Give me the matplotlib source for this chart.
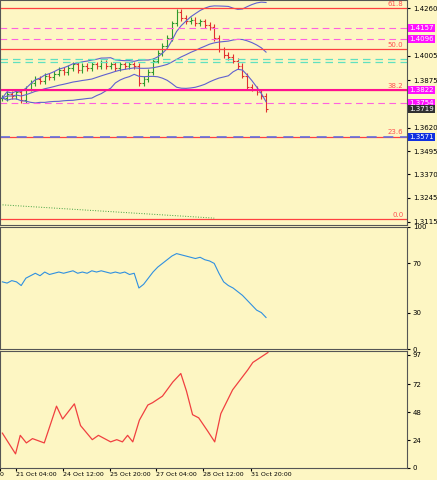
import matplotlib
matplotlib.use("Agg")
import matplotlib.pyplot as plt
import numpy as np
import pandas as pd

closes = [1.378,1.380,1.379,1.381,1.377,1.383,1.386,1.388,1.387,1.390,1.389,1.391,
          1.393,1.392,1.394,1.396,1.393,1.395,1.394,1.396,1.395,1.397,1.395,1.396,1.394,1.396,1.395,1.396,1.395,
          1.386,1.388,1.392,1.398,1.402,1.406,1.410,1.418,1.424,1.421,1.419,1.420,1.418,1.419,1.417,1.416,
          1.410,1.404,1.401,1.400,1.398,1.395,1.390,1.384,1.383,1.381,1.379,1.372]
rsi = [55,54,56,55,52,58,60,62,60,63,61,62,63,62,63,64,62,63,62,64,63,64,63,62,63,62,63,61,62,
       50,53,58,63,67,70,73,76,78,77,76,75,74,75,73,72,70,62,55,52,50,47,44,40,36,32,30,26]
stoch_x = [0,2.8,3.8,5.1,6.4,8.9,11.5,12.8,15.3,16.6,19.1,20.4,23,24.3,25.5,26.6,27.7,29.1,30.9,31.9,34,36.2,37.9,39.1,40.4,41.7,43.6,45.1,46.4,48.9,52.1,53.2,56.4]
stoch_v = [29.9,12.1,28,21.5,25.2,21.5,53,42,55,36.4,24.3,28,22.4,24.3,22.4,28,22.4,41,54,56,61.6,73.7,81,66,45.7,43,31.7,22.4,46.6,67,84,90.5,99]
xlabels = ["0","21 Oct 04:00","24 Oct 12:00","25 Oct 20:00","27 Oct 04:00","28 Oct 12:00","31 Oct 20:00"]
xlabel_pos = [-0.5,2.8,12.8,22.8,32.6,42.6,52.8]
fib_levels = {"61.8":1.4260,"50.0":1.4040,"38.2":1.3822,"23.6":1.3571,"0.0":1.3130}
magenta_dashed = [1.4157,1.4096,1.3754]
cyan_dashed = [1.3990,1.3975]
price_ticks = [1.4260,1.4005,1.3875,1.3620,1.3495,1.3370,1.3245,1.3115]

bg = "#fdf6c3"
fig = plt.figure(figsize=(4.37,4.80), dpi=100, facecolor=bg)
ax1 = fig.add_axes([0.0,0.532,0.932,0.468], facecolor=bg)
ax2 = fig.add_axes([0.0,0.272,0.932,0.256], facecolor=bg)
ax3 = fig.add_axes([0.0,0.025,0.932,0.243], facecolor=bg)
xmax = 86
for a in (ax1,ax2,ax3):
    a.set_xlim(-0.5,xmax)
    a.yaxis.tick_right()
    a.tick_params(axis='y', labelsize=5, length=2, pad=2)
    for s in a.spines.values(): s.set_color("#555")
    a.set_xticks([])

c = np.array(closes)
opens = np.r_[c[0], c[:-1]]
x = np.arange(len(c))
for i in x:
    col = "#2e9a2e" if c[i] >= opens[i] else "#e03030"
    hi = max(c[i],opens[i])+0.0015; lo = min(c[i],opens[i])-0.0015
    ax1.vlines(i, lo, hi, color=col, lw=0.8)
    ax1.hlines(opens[i], i-0.4, i, color=col, lw=0.8)
    ax1.hlines(c[i], i, i+0.4, color=col, lw=0.8)
s = pd.Series(c)
ma = s.rolling(20, min_periods=1).mean()
sd = s.rolling(20, min_periods=1).std().fillna(0)
ax1.plot(x, ma, color="#6060d0", lw=0.8)
ax1.plot(x, ma+1.6*sd, color="#6060d0", lw=0.8)
ax1.plot(x, ma-1.6*sd, color="#6060d0", lw=0.8)
for lab,v in fib_levels.items():
    ax1.axhline(v, color="#ff4040", lw=0.9)
    ax1.text(xmax-0.8, v+0.0008, lab, color="#ff5050", fontsize=5, ha="right", va="bottom")
ax1.axhline(fib_levels["38.2"], color="#ff1090", lw=1.5)
ax1.axhline(1.3571, color="#6070e0", lw=1.2, ls=(0,(6,4)))
for v in magenta_dashed:
    ax1.axhline(v, color="#ff60e0", lw=0.8, ls=(0,(6,4)))
for v in cyan_dashed:
    ax1.axhline(v, color="#60e0c0", lw=0.9, ls=(0,(6,4)))
ax1.plot([-0.5,45], [1.3207,1.3135], color="#40a040", lw=0.7, ls=":")
ax1.set_ylim(1.310,1.4305)
ax1.set_yticks(price_ticks)
ax1.set_yticklabels([f"{v:.4f}" for v in price_ticks])
boxes = [(1.4157,"#ff10ff","1.4157"),(1.4096,"#ff10ff","1.4096"),(1.3822,"#ff10ff","1.3822"),
         (1.3754,"#ff10ff","1.3754"),(1.3719,"#303030","1.3719"),(1.3571,"#1030e0","1.3571")]
for v,col,t in boxes:
    ax1.text(1.005, v, t, transform=ax1.get_yaxis_transform(), fontsize=5, color="white",
             va="center", ha="left", bbox=dict(boxstyle="square,pad=0.15", fc=col, ec="none"), clip_on=False)

ax2.plot(x, rsi, color="#3090e0", lw=0.8)
ax2.set_ylim(0,100); ax2.set_yticks([0,30,70,100])
ax3.plot(stoch_x, stoch_v, color="#f04040", lw=0.9)
ax3.set_ylim(0,100); ax3.set_yticks([0,24,48,72,97])
ax3.set_xticks(xlabel_pos)
ax3.set_xticklabels(xlabels, fontsize=4.5, ha="left")
ax3.tick_params(axis='x', length=2, pad=1)
fig.savefig("out.png", dpi=100, facecolor=bg)
